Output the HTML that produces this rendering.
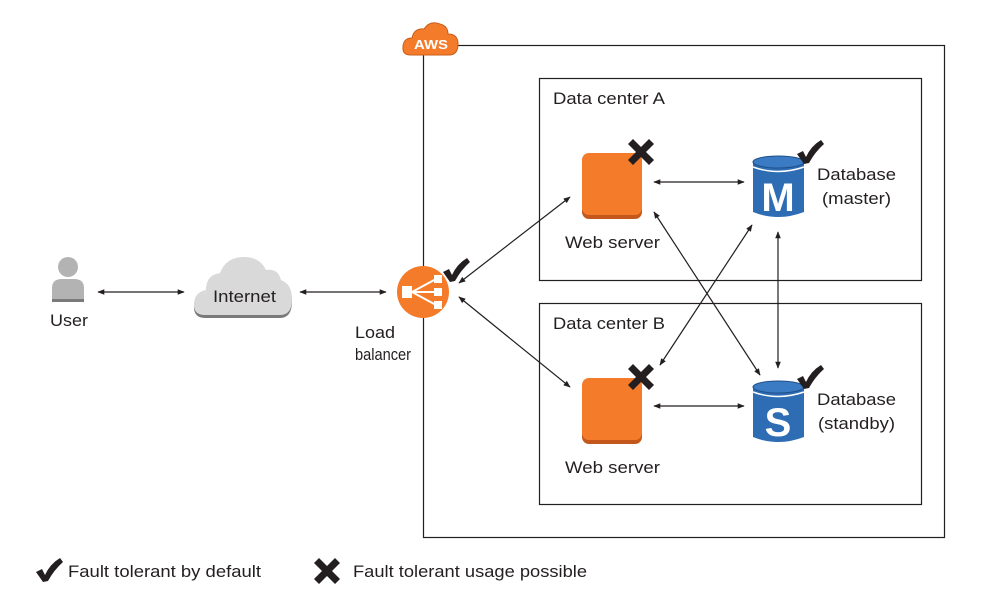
<!DOCTYPE html>
<html><head><meta charset="utf-8"><style>
html,body{margin:0;padding:0;background:#fff;}
svg{display:block;}
text{font-family:"Liberation Sans",Arial,sans-serif;fill:#231f20;}
</style></head><body>
<svg width="1001" height="606" viewBox="0 0 1001 606" xmlns="http://www.w3.org/2000/svg">
<defs>
<marker id="a" viewBox="0 0 10 10" refX="9" refY="5" markerWidth="9" markerHeight="7" orient="auto-start-reverse" markerUnits="userSpaceOnUse">
<path d="M0,1 L10,5 L0,9 z" fill="#231f20"/></marker>
<g id="chk"><path d="M0,12 L6,9 L9,15 Q14,4 24,-2 L27,2 Q18,10 12,21 L7,22 Z" fill="#231f20"/></g>
<g id="x"><path d="M-13,-8 L-8,-13 L0,-5 L8,-13 L13,-8 L5,0 L13,8 L8,13 L0,5 L-8,13 L-13,8 L-5,0 Z" fill="#231f20"/></g>
</defs>
<rect x="423.5" y="45.5" width="521" height="492" fill="none" stroke="#231f20" stroke-width="1.2"/>
<rect x="539.5" y="78.5" width="382" height="202" fill="none" stroke="#231f20" stroke-width="1.2"/>
<rect x="539.5" y="303.5" width="382" height="201" fill="none" stroke="#231f20" stroke-width="1.2"/>
<path d="M410,55 Q402,55 403,46 Q404,38 412,38 Q414,28 424,29 Q430,20 440,24 Q448,26 448,34 Q458,34 458,44 Q458,55 449,55 Z" fill="#f47b2a" stroke="#c75f1c" stroke-width="1"/>
<text x="431" y="49" font-size="13" style="fill:#fff" text-anchor="middle" font-weight="bold" textLength="34" lengthAdjust="spacingAndGlyphs">AWS</text>
<text x="553" y="104" font-size="17" textLength="112" lengthAdjust="spacingAndGlyphs">Data center A</text>
<text x="553" y="329" font-size="17" textLength="112" lengthAdjust="spacingAndGlyphs">Data center B</text>
<rect x="582" y="155" width="60" height="64" rx="7" fill="#c4581c"/>
<rect x="582" y="153" width="60" height="62" rx="7" fill="#f47b2a"/>
<rect x="582" y="380" width="60" height="64" rx="7" fill="#c4581c"/>
<rect x="582" y="378" width="60" height="62" rx="7" fill="#f47b2a"/>
<use href="#x" x="641" y="152"/>
<use href="#x" x="641" y="377"/>
<text x="565" y="248" font-size="17" textLength="95" lengthAdjust="spacingAndGlyphs">Web server</text>
<text x="565" y="473" font-size="17" textLength="95" lengthAdjust="spacingAndGlyphs">Web server</text>
<g>
<path d="M753,162 L753,212 Q778,222 804,212 L804,162 Z" fill="#2e6db4"/>
<ellipse cx="778.5" cy="162" rx="25.5" ry="6" fill="#3b7bc3" stroke="#1f4f8a" stroke-width="1"/>
<path d="M753,167 Q778,176 804,167" fill="none" stroke="#fff" stroke-width="1.5"/>
<text x="778" y="211" font-size="40" font-weight="bold" text-anchor="middle" style="fill:#fff">M</text>
</g>
<g>
<path d="M753,387 L753,437 Q778,447 804,437 L804,387 Z" fill="#2e6db4"/>
<ellipse cx="778.5" cy="387" rx="25.5" ry="6" fill="#3b7bc3" stroke="#1f4f8a" stroke-width="1"/>
<path d="M753,392 Q778,401 804,392" fill="none" stroke="#fff" stroke-width="1.5"/>
<text x="778" y="436" font-size="40" font-weight="bold" text-anchor="middle" style="fill:#fff">S</text>
</g>
<use href="#chk" x="797" y="142"/>
<use href="#chk" x="797" y="367"/>
<text x="817" y="180" font-size="17" textLength="79" lengthAdjust="spacingAndGlyphs">Database</text>
<text x="822" y="204" font-size="17" textLength="69" lengthAdjust="spacingAndGlyphs">(master)</text>
<text x="817" y="405" font-size="17" textLength="79" lengthAdjust="spacingAndGlyphs">Database</text>
<text x="818" y="429" font-size="17" textLength="77" lengthAdjust="spacingAndGlyphs">(standby)</text>
<circle cx="423" cy="292" r="26" fill="#f47b2a"/>
<g fill="#fff" stroke="#fff">
<rect x="402" y="286" width="10" height="12" stroke="none"/>
<line x1="412" y1="292" x2="436" y2="279" stroke-width="2"/>
<line x1="412" y1="292" x2="436" y2="292" stroke-width="2"/>
<line x1="412" y1="292" x2="436" y2="305" stroke-width="2"/>
<rect x="434" y="275" width="8" height="8" stroke="none"/>
<rect x="434" y="288" width="8" height="8" stroke="none"/>
<rect x="434" y="301" width="8" height="8" stroke="none"/>
</g>
<use href="#chk" x="443" y="260"/>
<text x="355" y="338" font-size="17" textLength="40" lengthAdjust="spacingAndGlyphs">Load</text>
<text x="355" y="360" font-size="17" textLength="56" lengthAdjust="spacingAndGlyphs">balancer</text>
<circle cx="68" cy="267" r="10" fill="#b3b3b3"/>
<path d="M52,302 L52,288 Q52,279 62,279 L74,279 Q84,279 84,288 L84,302 Z" fill="#b3b3b3"/>
<rect x="52" y="299" width="32" height="3" fill="#7a7a7a"/>
<text x="50" y="326" font-size="17" textLength="38" lengthAdjust="spacingAndGlyphs">User</text>
<path d="M205,318 Q193,318 194,305 Q195,294 206,292 Q206,277 220,275 Q226,259 244,259 Q260,259 266,272 Q278,270 281,282 Q292,286 292,301 Q292,318 280,318 Z" fill="#7a7a7a"/>
<path d="M205,315 Q193,315 194,303 Q195,292 206,290 Q206,275 220,273 Q226,257 244,257 Q260,257 266,270 Q278,268 281,280 Q292,284 292,299 Q292,315 280,315 Z" fill="#d9d9d9"/>
<text x="213" y="302" font-size="17" textLength="63" lengthAdjust="spacingAndGlyphs">Internet</text>
<g stroke="#231f20" stroke-width="1.2" fill="none" marker-start="url(#a)" marker-end="url(#a)">
<line x1="98" y1="292" x2="184" y2="292"/>
<line x1="300" y1="292" x2="386" y2="292"/>
<line x1="459" y1="283" x2="570" y2="197"/>
<line x1="459" y1="297" x2="570" y2="387"/>
<line x1="654" y1="182" x2="744" y2="182"/>
<line x1="654" y1="406" x2="744" y2="406"/>
<line x1="654" y1="212" x2="760" y2="375"/>
<line x1="752" y1="225" x2="660" y2="365"/>
<line x1="778" y1="232" x2="778" y2="368"/>
</g>
<use href="#chk" x="36" y="560"/>
<text x="68" y="577" font-size="17" textLength="193" lengthAdjust="spacingAndGlyphs">Fault tolerant by default</text>
<use href="#x" x="327" y="571"/>
<text x="353" y="577" font-size="17" textLength="234" lengthAdjust="spacingAndGlyphs">Fault tolerant usage possible</text>
</svg>
</body></html>
